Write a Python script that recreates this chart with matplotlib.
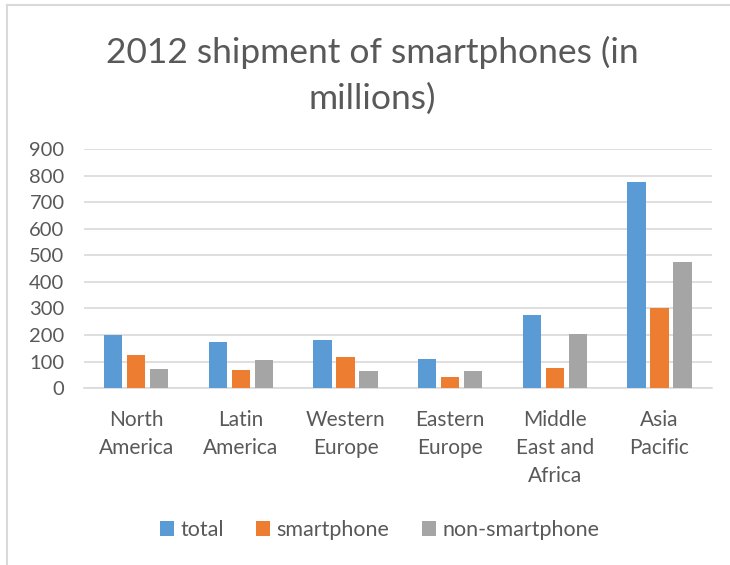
import numpy as np
import matplotlib
matplotlib.use("Agg")
import matplotlib.pyplot as plt
from matplotlib.lines import Line2D

plt.rcParams['font.family'] = ['Lato', 'DejaVu Sans']

# --- datos ---
regions = ["North\nAmerica", "Latin\nAmerica", "Western\nEurope", "Eastern\nEurope",
           "Middle\nEast and\nAfrica", "Asia\nPacific"]
total = [200, 172, 183, 111, 277, 775]
smartphone = [126, 68, 118, 43, 76, 300]
non_smartphone = [73, 105, 64, 65, 203, 474]
series_names = ["total", "smartphone", "non-smartphone"]
colors = ["#5B9BD5", "#ED7D31", "#A5A5A5"]
yticks = list(range(0, 901, 100))

TXT = "#595959"
GRID = "#D9D9D9"

fig = plt.figure(figsize=(7.3, 5.65), dpi=100)
ax = fig.add_axes([0.115, 0.313, 0.86, 0.423])

x = np.arange(len(regions))
offset = 0.22
width = 0.175
for i, (vals, name, c) in enumerate(zip([total, smartphone, non_smartphone], series_names, colors)):
    ax.bar(x + (i - 1) * offset, vals, width, color=c, label=name, zorder=3)

ax.set_ylim(0, 900)
ax.set_xlim(-0.5, len(regions) - 0.5)
ax.set_yticks(yticks)
ax.set_yticklabels([str(t) for t in yticks], fontsize=14.5, color=TXT)
ax.set_xticks(x)
ax.set_xticklabels(regions, fontsize=15, color=TXT, linespacing=1.5, va="top")
ax.tick_params(axis="both", length=0)
ax.tick_params(axis="x", pad=16)
ax.tick_params(axis="y", pad=14)
ax.grid(axis="y", color=GRID, linewidth=1.2, zorder=0)
for s in ["top", "right", "left"]:
    ax.spines[s].set_visible(False)
ax.spines["bottom"].set_color(GRID)
ax.spines["bottom"].set_linewidth(1.2)

fig.text(0.51, 0.867, "2012 shipment of smartphones (in\nmillions)", ha="center", va="center",
         fontsize=25.5, color=TXT, linespacing=1.5)

fig.legend(loc="center", bbox_to_anchor=(0.52, 0.062), ncol=3, frameon=False,
           fontsize=15.5, labelcolor=TXT, handlelength=0.65, handleheight=0.65,
           handletextpad=0.3, columnspacing=1.5)

# borde superior e izquierdo del área del gráfico
fig.add_artist(Line2D([0.01, 1.0], [0.991, 0.991], transform=fig.transFigure,
                      color=GRID, linewidth=1.5))
fig.add_artist(Line2D([0.01, 0.01], [0.0, 0.991], transform=fig.transFigure,
                      color=GRID, linewidth=1.5))

fig.savefig("out.png", dpi=100)
